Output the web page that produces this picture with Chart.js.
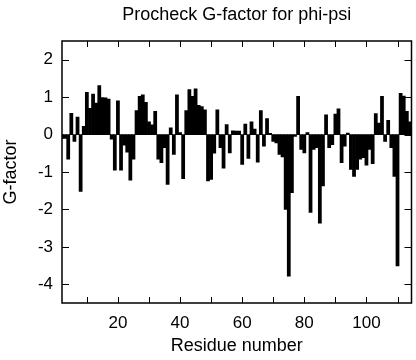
<!DOCTYPE html>
<html>
<head>
<meta charset="utf-8">
<script src="https://cdn.jsdelivr.net/npm/chart.js@4/dist/chart.umd.min.js"></script>
<style>
  html, body { margin: 0; padding: 0; background: #fff; }
  canvas { display: block; }
</style>
</head>
<body>
<canvas id="gfactor-chart" width="416" height="360"></canvas>
<script>
const chartTitle = 'Procheck G-factor for phi-psi';
const firstResidue = 2;
// G-factor per residue, starting at residue 2
const gFactor = [
  -0.1, -0.1, -0.66, 0.57, -0.18, 0.47, -1.52, 0.22, 1.13,          // 2-10
  0.7, 1.08, 0.84, 1.31, 0.99, 0.98, 0.95, -0.12, -0.95, 0.9,        // 11-20
  -0.95, -0.28, -0.47, -1.22, -0.66, 0.64, 1.02, 1.06, 0.86, 0.34,   // 21-30
  0.26, 0.62, -0.66, -0.75, -0.35, -1.33, 0.18, -0.53, 1.06, 0.05,   // 31-40
  -1.18, 0.64, 1.2, 1.02, 1.22, 0.78, 0.75, 0.66, -1.24, -1.2,       // 41-50
  -0.5, 0.66, -0.35, -0.9, 0.27, -0.49, 0.1, 0.09, 0.09, -0.8,       // 51-60
  0.28, -0.64, 0.34, 0.15, -0.74, 0.64, -0.31, 0.43, 0.03, -0.18,    // 61-70
  -0.22, -0.53, -0.6, -2.0, -3.78, -1.55, -0.05, 1.02, -0.4, -0.49,  // 71-80
  0.05, -2.08, -0.4, -0.35, -2.37, -1.37, 0.53, -0.35, -0.27, 0.55,  // 81-90
  0.69, -0.75, -0.31, 0.04, -0.93, -1.12, -0.93, -0.66, -0.62, -0.82, // 91-100
  -0.4, -0.78, 0.56, 0.31, 1.02, -0.18, 0.38, -0.35, -1.12, -3.51,   // 101-110
  1.1, 1.03, 0.62, 0.34                                              // 111-114
];
const residues = gFactor.map((_, i) => firstResidue + i);
const xTicks = [10, 20, 30, 40, 50, 60, 70, 80, 90, 100, 110];
const xLabels = [20, 40, 60, 80, 100];
const yTicks = [-4, -3, -2, -1, 0, 1, 2];
const xRange = [2, 114.5];
const yRange = [-4.5, 2.5];

Chart.defaults.font.family = "'Liberation Sans', Arial, Helvetica, sans-serif";
Chart.defaults.color = '#000';

// gnuplot-style frame: box round the plot, ticks pointing inward, title over plot area
const framePlugin = {
  id: 'frame',
  afterDraw(chart) {
    const { ctx, chartArea: a, scales } = chart;
    ctx.save();
    ctx.strokeStyle = '#000';
    ctx.lineWidth = 1.5;
    ctx.strokeRect(a.left, a.top, a.right - a.left, a.bottom - a.top);
    ctx.lineWidth = 1;
    ctx.beginPath();
    scales.x.ticks.forEach((t) => {
      const px = Math.round(scales.x.getPixelForValue(t.value)) + 0.5;
      ctx.moveTo(px, a.bottom); ctx.lineTo(px, a.bottom - 6);
      ctx.moveTo(px, a.top); ctx.lineTo(px, a.top + 6);
    });
    scales.y.ticks.forEach((t) => {
      const py = Math.round(scales.y.getPixelForValue(t.value)) + 0.5;
      ctx.moveTo(a.left, py); ctx.lineTo(a.left + 7, py);
      ctx.moveTo(a.right, py); ctx.lineTo(a.right - 7, py);
    });
    ctx.stroke();

    ctx.fillStyle = '#000';
    ctx.font = "18px 'Liberation Sans', Arial, sans-serif";
    ctx.textAlign = 'center';
    ctx.textBaseline = 'alphabetic';
    ctx.fillText(chartTitle, (a.left + a.right) / 2, 20);
    ctx.restore();
  },
};

new Chart(document.getElementById('gfactor-chart'), {
  type: 'bar',
  data: {
    datasets: [{
      data: residues.map((r, i) => ({ x: r, y: gFactor[i] })),
      backgroundColor: '#000',
      borderWidth: 0,
      barPercentage: 1,
      categoryPercentage: 1,
    }],
  },
  options: {
    responsive: false,
    animation: false,
    devicePixelRatio: 1,
    layout: { padding: { top: 41, right: 4.5, left: 0, bottom: 0 } },
    plugins: {
      legend: { display: false },
      tooltip: { enabled: false },
    },
    scales: {
      x: {
        type: 'linear',
        offset: false,
        min: xRange[0],
        max: xRange[1],
        grid: { display: false, drawTicks: false },
        border: { display: false },
        ticks: {
          autoSkip: false,
          maxRotation: 0,
          padding: 10,
          font: { size: 17 },
          callback: (v) => (xLabels.includes(v) ? v : ''),
        },
        afterBuildTicks(scale) {
          scale.ticks = xTicks.map((v) => ({ value: v }));
        },
        afterFit(scale) { scale.height = 57; },
        title: {
          display: true,
          text: 'Residue number',
          font: { size: 18 },
          padding: { top: 0, bottom: 3 },
        },
      },
      y: {
        min: yRange[0],
        max: yRange[1],
        grid: { display: false, drawTicks: false },
        border: { display: false },
        ticks: {
          padding: 9,
          font: { size: 17 },
        },
        afterBuildTicks(scale) {
          scale.ticks = yTicks.map((v) => ({ value: v }));
        },
        afterFit(scale) { scale.width = 62; },
        title: {
          display: true,
          text: 'G-factor',
          font: { size: 18 },
          padding: { top: 0, bottom: 0 },
        },
      },
    },
  },
  plugins: [framePlugin],
});
</script>
</body>
</html>
